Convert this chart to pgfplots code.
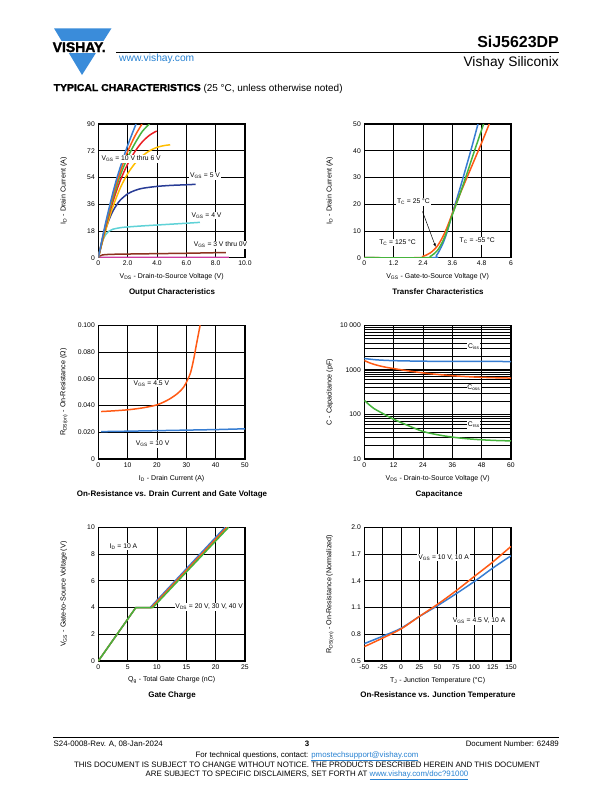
\documentclass[border=0pt]{standalone}
\usepackage{fontspec}
\setmainfont{Liberation Sans}
\newfontfamily\heavyfont{Liberation Sans Bold}[FakeBold=1.6]
\usepackage{pgfplots}
\pgfplotsset{compat=1.18}
\usetikzlibrary{arrows.meta}
\definecolor{vblue}{RGB}{58,140,218}
\definecolor{linkblue}{RGB}{40,130,210}
\definecolor{cblue}{RGB}{55,125,210}
\definecolor{corange}{RGB}{255,90,20}
\definecolor{cgreen}{RGB}{70,180,60}
\definecolor{cred}{RGB}{235,30,35}
\definecolor{cyellow}{RGB}{255,190,0}
\definecolor{cdblue}{RGB}{40,60,150}
\definecolor{ccyan}{RGB}{95,210,215}
\definecolor{cbrown}{RGB}{140,50,30}
\definecolor{cmag}{RGB}{205,60,160}
\newcommand{\sub}[1]{\textsubscript{#1}}
\newcommand{\fs}[1]{\fontsize{#1}{#1}\selectfont}
\pgfplotsset{
 dsaxis/.style={
  scale only axis, width=146.7bp, height=133.7bp,
  axis line style={line width=1.2bp},
  grid=major,
  major grid style={line width=0.8bp, black},
  major tick length=0pt, minor tick length=0pt,
  tick label style={font=\fs{6.8}, black},
  every axis x label/.style={at={(axis description cs:0.5,-0.145)},anchor=center,font=\fs{7}},
  every axis y label/.style={at={(axis description cs:-0.235,0.5)},anchor=center,rotate=90,font=\fs{7.2}},
  every axis plot/.append style={line width=1.5bp},
 },
}
\tikzset{ann/.style={fill=white, inner sep=0.8bp, font=\fs{6.8}}}
\begin{document}
\begin{tikzpicture}
\fill[white] (0,0) rectangle (612bp,-792bp);
\path[use as bounding box] (0,0) rectangle (612bp,-792bp);
% ---------- header ----------
\fill[vblue] (54bp,-28.3bp) -- (111.5bp,-28.3bp) -- (82bp,-75bp) -- cycle;
\fill[white] (45bp,-40.7bp) rectangle (118bp,-53.3bp);
\node[anchor=base west, inner sep=0pt, font=\fs{14}\heavyfont] at (52.5bp,-52bp) {VISHAY.};
\draw[line width=0.8bp] (116bp,-52.3bp) -- (559bp,-52.3bp);
\node[anchor=base west, inner sep=0pt, font=\fs{10.3}, text=linkblue] at (119bp,-61.5bp) {www.vishay.com};
\node[anchor=base east, inner sep=0pt, font=\fs{16}\bfseries] at (559bp,-47bp) {SiJ5623DP};
\node[anchor=base east, inner sep=0pt, font=\fs{13.8}] at (559bp,-66bp) {Vishay Siliconix};
\node[anchor=base west, inner sep=0pt, font=\fs{10}] at (53.5bp,-91bp) {\scalebox{1.046}[1]{\heavyfont TYPICAL CHARACTERISTICS} (25 °C, unless otherwise noted)};
% ---------- plot 1: output characteristics ----------
\begin{axis}[dsaxis, at={(98.3bp,-257.7bp)}, anchor=south west,
  xmin=0, xmax=10, ymin=0, ymax=90,
  xtick={0,2,4,6,8,10}, xticklabels={0,2.0,4.0,6.0,8.0,10.0},
  ytick={0,18,36,54,72,90}, yticklabels={0,18,36,54,72,90},
  xlabel={V\sub{DS} - Drain-to-Source Voltage (V)},
  ylabel={I\sub{D} - Drain Current (A)}]
\addplot[cmag] coordinates {(0,0.2) (8.9,0.3)};
\addplot[cbrown, smooth] coordinates {(0,0) (0.1,1.2) (0.3,1.9) (1,2.3) (3,2.6) (6,3.0) (8.7,3.5)};
\addplot[ccyan, smooth] coordinates {(0,0) (0.15,6.5) (0.3,11.5) (0.5,15.5) (0.75,18) (1,19.2) (1.5,20.2) (2,20.7) (3,21.4) (4,22) (5,22.6) (6,23.2) (6.93,23.8)};
\addplot[cdblue, smooth] coordinates {(0,0) (0.25,10) (0.5,19) (0.75,26) (1,31.5) (1.25,35.5) (1.5,38.8) (2,43) (2.5,45.3) (3,46.7) (4,48) (5,48.7) (6,49.1) (6.64,49.4)};
\addplot[cyellow, smooth] coordinates {(0,0) (0.25,9.5) (0.5,18.5) (0.75,27) (1,34.5) (1.5,47) (2,56.5) (2.5,63.5) (3,68.5) (3.5,72) (4,74.3) (4.5,75.5) (4.9,76)};
\addplot[cred, smooth] coordinates {(0,0) (0.25,10.5) (0.5,20.5) (0.75,29.5) (1,38) (1.5,52) (2,63) (2.5,71.5) (3,78) (3.5,82.5) (3.98,85.3)};
\addplot[cgreen, smooth] coordinates {(0,0) (0.25,11) (0.5,21.5) (0.75,31) (1,40) (1.25,48) (1.5,55.5) (2,67.5) (2.5,77) (3,85) (3.48,90)};
\addplot[corange, smooth] coordinates {(0,0) (0.25,11.5) (0.5,22.5) (0.75,32.5) (1,42) (1.25,50.5) (1.5,58) (1.75,65) (2,71.5) (2.5,82) (2.98,90)};
\addplot[cblue, smooth] coordinates {(0,0) (0.25,12) (0.5,23.5) (0.75,34) (1,44) (1.25,53) (1.5,61) (1.75,68.5) (2,75.5) (2.25,82) (2.57,90)};
\coordinate (a1) at (axis cs:2.24,66.5);
\coordinate (a2) at (axis cs:7.28,55);
\coordinate (a3) at (axis cs:7.38,28.2);
\coordinate (a4) at (axis cs:8.33,8.7);
\end{axis}
\node[ann] at (a1) {V\sub{GS} = 10 V thru 6 V};
\node[ann] at (a2) {V\sub{GS} = 5 V};
\node[ann] at (a3) {V\sub{GS} = 4 V};
\node[ann] at (a4) {V\sub{GS} = 3 V thru 0V};
% ---------- plot 2: transfer characteristics ----------
\begin{axis}[dsaxis, at={(364.3bp,-257.7bp)}, anchor=south west,
  xmin=0, xmax=6, ymin=0, ymax=50,
  xtick={0,1.2,2.4,3.6,4.8,6}, xticklabels={0,1.2,2.4,3.6,4.8,6},
  ytick={0,10,20,30,40,50}, yticklabels={0,10,20,30,40,50},
  xlabel={V\sub{GS} - Gate-to-Source Voltage (V)},
  ylabel={I\sub{D} - Drain Current (A)}]
\addplot[cblue, smooth] coordinates {(0,0) (2.75,0) (2.95,0.8) (3.2,5) (3.4,10) (3.6,16.5) (3.9,25.5) (4.2,35) (4.4,41.5) (4.65,50)};
\addplot[corange, smooth] coordinates {(0,0) (2.2,0) (2.4,0.5) (2.7,1.8) (3.0,4.5) (3.3,9.5) (3.6,16.5) (3.9,23.5) (4.2,30) (4.5,36.5) (4.8,43) (5.11,50)};
\addplot[cgreen, smooth] coordinates {(0,0) (2.5,0) (2.7,0.5) (3.0,2.8) (3.3,8) (3.6,16) (3.9,23.5) (4.2,31.5) (4.5,39.8) (4.88,50)};
\coordinate (b1) at (axis cs:2.01,20.9);
\coordinate (b2) at (axis cs:2.38,17.3);
\coordinate (b3) at (axis cs:2.92,4.0);
\coordinate (b4) at (axis cs:1.36,5.6);
\coordinate (b5) at (axis cs:4.62,6.3);
\end{axis}
\node[ann] at (b1) {T\sub{C} = 25 °C};
\draw[-{Latex[length=3.5bp,width=2.5bp]}, line width=0.5bp] (b2) -- (b3);
\node[ann] at (b4) {T\sub{C} = 125 °C};
\node[ann] at (b5) {T\sub{C} = -55 °C};
% ---------- plot 3: on-resistance vs drain current ----------
\begin{axis}[dsaxis, at={(98.3bp,-459bp)}, anchor=south west,
  xmin=0, xmax=50, ymin=0, ymax=0.1,
  xtick={0,10,20,30,40,50}, xticklabels={0,10,20,30,40,50},
  ytick={0,0.02,0.04,0.06,0.08,0.1}, yticklabels={0,0.020,0.040,0.060,0.080,0.100},
  xlabel={I\sub{D} - Drain Current (A)},
  ylabel={R\sub{DS(on)} - On-Resistance (Ω)}]
\addplot[corange, smooth] coordinates {(1,0.0355) (5,0.036) (10,0.0368) (15,0.0382) (20,0.0405) (24,0.0445) (27,0.049) (29,0.0535) (30.5,0.0595) (31.5,0.065) (32.5,0.0745) (33.3,0.084) (34,0.092) (34.7,0.1)};
\addplot[cblue] coordinates {(1,0.0205) (10,0.0208) (20,0.0212) (30,0.0216) (40,0.022) (50,0.0226)};
\coordinate (c1) at (axis cs:18.1,0.0564);
\coordinate (c2) at (axis cs:18.5,0.0113);
\end{axis}
\node[ann] at (c1) {V\sub{GS} = 4.5 V};
\node[ann] at (c2) {V\sub{GS} = 10 V};
% ---------- plot 4: capacitance ----------
\begin{axis}[dsaxis, at={(364.3bp,-459bp)}, anchor=south west,
  ymode=log, grid=both, minor grid style={line width=0.6bp, black},
  xmin=0, xmax=60, ymin=10, ymax=10000,
  xtick={0,12,24,36,48,60}, xticklabels={0,12,24,36,48,60},
  ytick={10,100,1000,10000}, yticklabels={10,100,1000,10 000},
  xlabel={V\sub{DS} - Drain-to-Source Voltage (V)},
  ylabel={C - Capacitance (pF)}]
\addplot[cblue, smooth] coordinates {(0,1800) (3,1720) (6,1665) (12,1610) (24,1565) (36,1550) (48,1545) (60,1540)};
\addplot[corange, smooth] coordinates {(0,1620) (2,1450) (4,1330) (6,1240) (9,1140) (12,1070) (18,950) (24,855) (30,790) (36,740) (42,705) (48,680) (54,665) (60,655)};
\addplot[cgreen, smooth] coordinates {(0,207) (2,165) (4,135) (6,117) (9,95) (12,78) (18,56) (24,41.5) (30,35) (36,31) (42,28.5) (48,27) (54,26) (60,25.5)};
\coordinate (d1) at (axis cs:44.8,3380);
\coordinate (d2) at (axis cs:44.8,400);
\coordinate (d3) at (axis cs:44.8,58);
\end{axis}
\node[ann] at (d1) {C\sub{iss}};
\node[ann] at (d2) {C\sub{oss}};
\node[ann] at (d3) {C\sub{rss}};
% ---------- plot 5: gate charge ----------
\begin{axis}[dsaxis, at={(98.3bp,-661bp)}, anchor=south west,
  xmin=0, xmax=25, ymin=0, ymax=10,
  xtick={0,5,10,15,20,25}, xticklabels={0,5,10,15,20,25},
  ytick={0,2,4,6,8,10}, yticklabels={0,2,4,6,8,10},
  xlabel={Q\sub{g} - Total Gate Charge (nC)},
  ylabel={V\sub{GS} - Gate-to-Source Voltage (V)}]
\addplot[cblue] coordinates {(0,0) (6.4,4) (8.85,4) (21.6,10)};
\addplot[corange] coordinates {(0,0) (6.4,4) (9.05,4) (21.9,10)};
\addplot[cgreen] coordinates {(0,0) (6.4,4) (9.3,4) (22.2,10)};
\coordinate (e1) at (axis cs:4.3,8.55);
\coordinate (e2) at (axis cs:18.9,4.05);
\end{axis}
\node[ann] at (e1) {I\sub{D} = 10 A};
\node[ann] at (e2) {V\sub{DS} = 20 V, 30 V, 40 V};
% ---------- plot 6: on-resistance vs junction temperature ----------
\begin{axis}[dsaxis, at={(364.3bp,-661bp)}, anchor=south west,
  xmin=-50, xmax=150, ymin=0.5, ymax=2.0,
  xtick={-50,-25,0,25,50,75,100,125,150}, xticklabels={-50,-25,0,25,50,75,100,125,150},
  ytick={0.5,0.8,1.1,1.4,1.7,2.0}, yticklabels={0.5,0.8,1.1,1.4,1.7,2.0},
  xlabel={T\sub{J} - Junction Temperature (°C)},
  ylabel={R\sub{DS(on)} - On-Resistance (Normalized)}]
\addplot[cblue, smooth] coordinates {(-50,0.695) (-25,0.778) (0,0.867) (25,0.999) (50,1.122) (75,1.254) (100,1.392) (125,1.542) (150,1.681)};
\addplot[corange, smooth] coordinates {(-50,0.661) (-25,0.757) (0,0.86) (25,1.0) (50,1.137) (75,1.287) (100,1.449) (125,1.61) (150,1.786)};
\coordinate (f1) at (axis cs:58.1,1.659);
\coordinate (f2) at (axis cs:106.6,0.95);
\end{axis}
\node[ann] at (f1) {V\sub{GS} = 10 V, 10 A};
\node[ann] at (f2) {V\sub{GS} = 4.5 V, 10 A};
% ---------- plot titles ----------
\begin{scope}[every node/.style={font=\fs{8}\bfseries, inner sep=0pt}]
\node at (172bp,-292bp) {Output Characteristics};
\node at (438bp,-292bp) {Transfer Characteristics};
\node at (172bp,-494bp) {On-Resistance vs. Drain Current and Gate Voltage};
\node at (439bp,-494bp) {Capacitance};
\node at (172bp,-695bp) {Gate Charge};
\node at (438bp,-695bp) {On-Resistance vs. Junction Temperature};
\end{scope}
% ---------- footer ----------
\draw[line width=0.8bp] (53bp,-737bp) -- (559bp,-737bp);
\begin{scope}[every node/.style={font=\fs{7.9}, inner sep=0pt}]
\node[anchor=base west] at (53.5bp,-746bp) {S24-0008-Rev. A, 08-Jan-2024};
\node[anchor=base] at (307bp,-746bp) {\textbf{3}};
\node[anchor=base east] at (559bp,-746bp) {Document Number: 62489};
\node[anchor=base] at (307bp,-757bp) {For technical questions, contact: \textcolor{linkblue}{\underline{pmostechsupport@vishay.com}}};
\node[anchor=base] at (307bp,-767.5bp) {THIS DOCUMENT IS SUBJECT TO CHANGE WITHOUT NOTICE. THE PRODUCTS DESCRIBED HEREIN AND THIS DOCUMENT};
\node[anchor=base] at (307bp,-776bp) {ARE SUBJECT TO SPECIFIC DISCLAIMERS, SET FORTH AT \textcolor{linkblue}{\underline{www.vishay.com/doc?91000}}};
\end{scope}
\end{tikzpicture}
\end{document}
